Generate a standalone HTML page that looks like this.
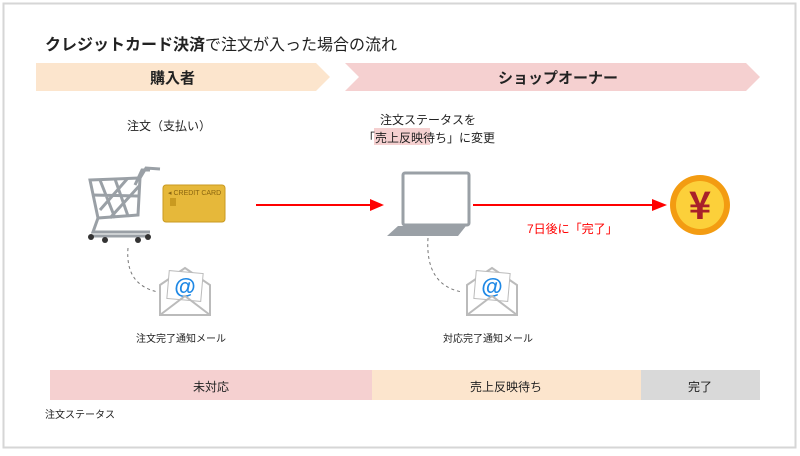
<!DOCTYPE html><html><head><meta charset="utf-8"><style>
body{margin:0;width:800px;height:456px;background:#fff;font-family:"Liberation Sans","Noto Sans CJK JP",sans-serif;overflow:hidden;position:relative}
.t{position:absolute;white-space:nowrap;color:#222}
</style></head><body>
<svg width="800" height="456" style="position:absolute;left:0;top:0">
<rect x="3.5" y="3.5" width="792" height="444" fill="#fff" stroke="#d6d6d6" stroke-width="2"/>
<polygon points="36,63 316,63 330,77 316,91 36,91" fill="#fce5cd"/>
<polygon points="345,63 746,63 760,77 746,91 345,91 359,77" fill="#f5d0d0"/>
<rect x="374" y="128" width="56" height="17" fill="#f5d0d0"/>
<rect x="50" y="370" width="322" height="30" fill="#f5d0d0"/>
<rect x="372" y="370" width="269" height="30" fill="#fce5cd"/>
<rect x="641" y="370" width="119" height="30" fill="#d9d9d9"/>
<g stroke="#9aa0a6" stroke-width="3" fill="none">
<path d="M90 180 L140 178 L138 215 L98 218 Z"/>
<path d="M100 180 L115 218 M115 179 L128 216 M128 178 L100 210 M140 185 L110 218 M92 195 L138 196"/>
<path d="M140 178 L146 168 L160 169 M135 185 L142 170 L150 170"/>
<path d="M98 218 L93 232 L150 232 M90 236 L150 236"/>
</g>
<g fill="#333"><circle cx="91" cy="237" r="3"/><circle cx="105" cy="240" r="3"/><circle cx="138" cy="240" r="3"/><circle cx="148" cy="237" r="3"/></g>
<rect x="163" y="185" width="62" height="37" rx="3" fill="#e6b83a" stroke="#c99a20"/>
<text x="168" y="195" font-size="7" fill="#8a6510" font-family="Liberation Sans">◂ CREDIT CARD</text>
<rect x="170" y="198" width="6" height="8" fill="#c99a20"/>
<line x1="256" y1="205" x2="372" y2="205" stroke="#f00" stroke-width="2"/><polygon points="370,199 384,205 370,211" fill="#f00"/>
<line x1="473" y1="205" x2="655" y2="205" stroke="#f00" stroke-width="2"/><polygon points="652,199 667,205 652,211" fill="#f00"/>
<rect x="403" y="173" width="66" height="52" rx="2" fill="#fff" stroke="#9aa0a6" stroke-width="3"/>
<polygon points="398,226 466,226 458,236 387,236" fill="#9aa0a6"/>
<circle cx="700" cy="205" r="30" fill="#f39c12"/><circle cx="700" cy="205" r="24" fill="#fcd03a"/>
<text x="700" y="219" font-size="38" font-weight="bold" fill="#a8202a" text-anchor="middle" font-family="Noto Sans CJK JP">¥</text>
<path d="M128 248 Q125 285 158 292" stroke="#777" stroke-dasharray="3,3" fill="none"/>
<path d="M428 238 Q425 285 462 292" stroke="#777" stroke-dasharray="3,3" fill="none"/>
<g id="m"><polygon points="160,285 185,268 210,285 210,315 160,315" fill="#fff" stroke="#bbb" stroke-width="2"/>
<rect x="168" y="272" width="34" height="28" fill="#fff" stroke="#bbb" transform="rotate(5 185 286)"/>
<text x="185" y="294" font-size="22" font-weight="bold" fill="#1e88e5" text-anchor="middle">@</text>
<path d="M160 315 L185 296 L210 315" fill="none" stroke="#bbb" stroke-width="2"/></g>
<use href="#m" x="307"/>
</svg>
<div class="t" style="left:45px;top:31px;font-size:16px"><b>クレジットカード決済</b>で注文が入った場合の流れ</div>
<div class="t" style="left:150px;top:67px;font-size:15px;font-weight:bold">購入者</div>
<div class="t" style="left:498px;top:67px;font-size:15px;font-weight:bold">ショップオーナー</div>
<div class="t" style="left:127px;top:117px;font-size:12px">注文（支払い）</div>
<div class="t" style="left:380px;top:111px;font-size:12px">注文ステータスを</div>
<div class="t" style="left:363px;top:129px;font-size:12px">「売上反映待ち」に変更</div>
<div class="t" style="left:527px;top:220px;font-size:12px;color:#f00">7日後に「完了」</div>
<div class="t" style="left:136px;top:330px;font-size:10px">注文完了通知メール</div>
<div class="t" style="left:443px;top:330px;font-size:10px">対応完了通知メール</div>
<div class="t" style="left:193px;top:378px;font-size:12px">未対応</div>
<div class="t" style="left:470px;top:378px;font-size:12px">売上反映待ち</div>
<div class="t" style="left:688px;top:378px;font-size:12px">完了</div>
<div class="t" style="left:45px;top:406px;font-size:10px">注文ステータス</div>
</body></html>
